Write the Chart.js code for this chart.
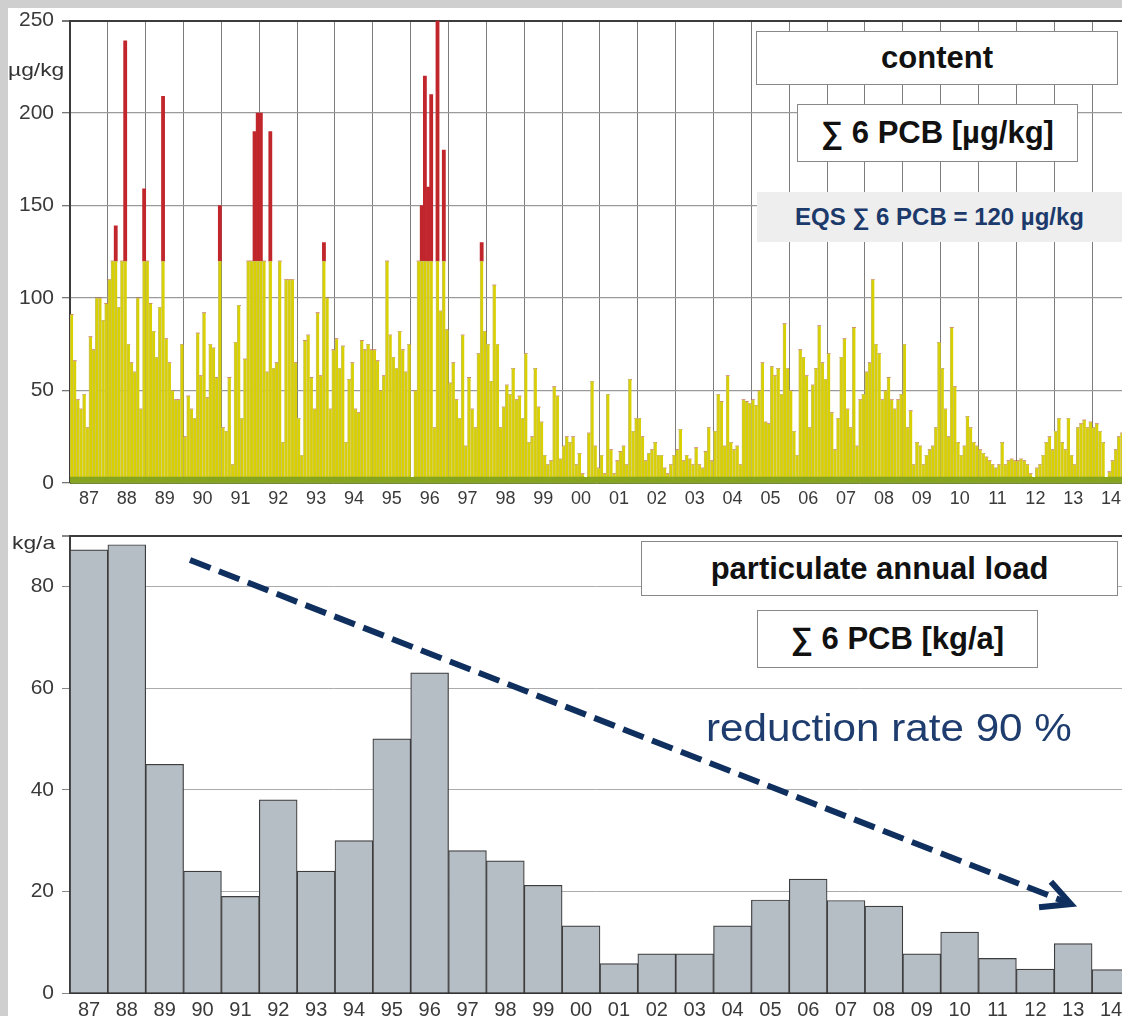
<!DOCTYPE html>
<html>
<head>
<meta charset="utf-8">
<script src="https://cdn.jsdelivr.net/npm/chart.js@4.4.1/dist/chart.umd.min.js"></script>
<style>
  html, body { margin: 0; padding: 0; }
  body { width: 1122px; height: 1016px; background: #cfcfcf; position: relative; overflow: hidden;
         font-family: "Liberation Sans", Arial, sans-serif; }
  #sheet { position: absolute; left: 8px; top: 8px; right: 0; bottom: 0; background: #fff; }
  canvas { position: absolute; left: 0; }
  #topChart { top: 0; }
  #botChart { top: 515px; }
  .unit { position: absolute; font-size: 19px; color: #333; line-height: 1; white-space: nowrap;
          transform: scaleX(1.2); transform-origin: left top; }
  .box { position: absolute; background: #fff; border: 1.5px solid #888; box-sizing: border-box;
         display: flex; align-items: center; justify-content: center;
         font-weight: bold; font-size: 31px; color: #111; white-space: nowrap; }
  #eqs { position: absolute; left: 757px; top: 192px; width: 365px; height: 50px; background: #eeeeee;
         display: flex; align-items: center; justify-content: center;
         font-weight: bold; font-size: 24px; color: #1b3a6b; white-space: nowrap; }
  #reduction { position: absolute; left: 706px; top: 709px; font-size: 38px; color: #1e3d6e;
               line-height: 1; white-space: nowrap; transform: scaleX(1.11); transform-origin: left center; }
</style>
</head>
<body>
<div id="sheet"></div>
<canvas id="topChart" width="1122" height="515"></canvas>
<canvas id="botChart" width="1122" height="501"></canvas>

<div class="unit" style="left:8px; top:60px;">µg/kg</div>
<div class="box" style="left:756px; top:31px; width:362px; height:54px;">content</div>
<div class="box" style="left:797px; top:104px; width:281px; height:58px;">∑ 6 PCB [µg/kg]</div>
<div id="eqs">EQS ∑ 6 PCB = 120 µg/kg</div>

<div class="unit" style="left:12px; top:533px;">kg/a</div>
<div class="box" style="left:641px; top:541px; width:477px; height:55px;">particulate annual load</div>
<div class="box" style="left:757px; top:610px; width:281px; height:58px;">∑ 6 PCB [kg/a]</div>
<div id="reduction">reduction rate 90 %</div>

<script>
// years on both x axes
const years = [1987, 1988, 1989, 1990, 1991, 1992, 1993, 1994, 1995, 1996, 1997, 1998, 1999, 2000,
               2001, 2002, 2003, 2004, 2005, 2006, 2007, 2008, 2009, 2010, 2011, 2012, 2013, 2014];
const yearLabels = ['87', '88', '89', '90', '91', '92', '93', '94', '95', '96', '97', '98', '99', '00',
                    '01', '02', '03', '04', '05', '06', '07', '08', '09', '10', '11', '12', '13', '14'];

// monthly sum of 6 PCB content [µg/kg], one array per year
const c87 = [91, 66, 45, 40, 48, 30, 79, 72, 100, 100, 88, 97];
const c88 = [110, 120, 139, 95, 120, 239, 75, 65, 60, 100, 40, 159];
const c89 = [120, 97, 82, 68, 95, 209, 78, 65, 50, 45, 45, 75];
const c90 = [25, 47, 40, 35, 81, 58, 92, 46, 75, 73, 57, 150];
const c91 = [30, 28, 57, 10, 76, 96, 35, 67, 120, 120, 190, 200];
const c92 = [200, 120, 60, 190, 62, 65, 120, 22, 110, 110, 110, 65];
const c93 = [35, 15, 77, 80, 57, 40, 92, 58, 130, 100, 40, 72];
const c94 = [78, 62, 74, 22, 56, 65, 40, 38, 77, 72, 75, 72];
const c95 = [72, 66, 50, 58, 120, 80, 68, 62, 82, 72, 60, 75];
const c96 = [3, 50, 120, 150, 220, 160, 210, 30, 250, 93, 180, 83];
const c97 = [54, 65, 45, 35, 80, 20, 57, 40, 30, 70, 130, 82];
const c98 = [75, 55, 107, 75, 30, 41, 53, 48, 62, 45, 47, 35];
const c99 = [70, 22, 25, 62, 41, 33, 15, 10, 12, 52, 47, 13];
const c00 = [20, 25, 22, 25, 10, 16, 5, 3, 27, 55, 20, 8];
const c01 = [15, 5, 48, 18, 5, 12, 17, 20, 10, 56, 28, 35];
const c02 = [35, 25, 12, 16, 18, 22, 15, 15, 8, 5, 10, 15];
const c03 = [18, 29, 12, 15, 13, 10, 19, 10, 8, 17, 30, 12];
const c04 = [28, 48, 44, 20, 58, 22, 18, 20, 10, 45, 44, 43];
const c05 = [45, 42, 50, 65, 33, 32, 63, 58, 62, 48, 86, 62];
const c06 = [50, 28, 15, 72, 68, 58, 30, 53, 62, 85, 65, 56];
const c07 = [70, 38, 18, 35, 68, 78, 40, 30, 84, 20, 45, 48];
const c08 = [60, 65, 110, 75, 70, 45, 50, 57, 45, 40, 45, 48];
const c09 = [75, 30, 39, 10, 22, 20, 10, 15, 18, 20, 30, 76];
const c10 = [62, 40, 25, 84, 52, 22, 15, 20, 36, 30, 22, 20];
const c11 = [18, 16, 14, 12, 10, 8, 10, 22, 10, 12, 13, 12];
const c12 = [12, 13, 12, 10, 5, 3, 8, 10, 15, 22, 25, 18];
const c13 = [28, 35, 22, 18, 35, 15, 10, 30, 32, 34, 30, 33];
const c14 = [30, 32, 28, 22, 3, 6, 12, 18, 25, 27];

// particulate annual load of 6 PCB [kg/a]
const loads = [87.2, 88.2, 45, 24, 19, 38, 24, 30, 50, 63, 28, 26, 21.2, 13.2,
               5.8, 7.7, 7.7, 13.2, 18.3, 22.4, 18.2, 17.1, 7.7, 12, 6.8, 4.7, 9.7, 4.6];

const eqs = 120;        // quality standard, bars above it are red
const baseBand = 3.2;   // green foot of every bar
const xEnd = 2014.79;   // picture is cut inside 2014
// trend arrow in data units [year, kg/a]
const trendFrom = [1990.17, 85.2];
const trendTo = [2013.44, 17.5];

const content = [].concat(c87, c88, c89, c90, c91, c92, c93, c94, c95, c96, c97, c98, c99, c00,
                          c01, c02, c03, c04, c05, c06, c07, c08, c09, c10, c11, c12, c13, c14);
const monthX = content.map((v, i) => years[0] + (i + 0.5) / 12);

const tickFont = { family: "'Liberation Sans', Arial, sans-serif" };

function yearAxis(fontSize, showGrid, height) {
  return {
    type: 'linear',
    min: years[0],
    max: xEnd,
    offset: false,
    stacked: true,
    afterBuildTicks: (s) => { s.ticks = years.map((v) => ({ value: v })); },
    afterFit: (s) => { s.height = height; },
    ticks: {
      autoSkip: false, maxRotation: 0, labelOffset: 19, padding: 5, color: '#3a3a3a',
      font: { ...tickFont, size: fontSize },
      callback: (v) => yearLabels[years.indexOf(v)]
    },
    grid: { display: showGrid, offset: false, drawTicks: false, color: '#7d7d7d', lineWidth: 1 },
    border: { display: true, color: showGrid ? '#6f8a2a' : '#333', width: showGrid ? 1 : 2 }
  };
}

new Chart(document.getElementById('topChart'), {
  type: 'bar',
  data: {
    datasets: [
      { data: content.map((v, i) => ({ x: monthX[i], y: Math.min(v, baseBand) })),
        backgroundColor: '#86a41e', borderWidth: 0 },
      { data: content.map((v, i) => ({ x: monthX[i], y: Math.min(v, eqs) - Math.min(v, baseBand) })),
        backgroundColor: '#d9d000', borderColor: '#cbc35e', borderWidth: { left: 1, top: 1, right: 0, bottom: 0 } },
      { data: content.map((v, i) => ({ x: monthX[i], y: Math.max(v - eqs, 0) })),
        backgroundColor: '#c1262c', borderWidth: 0 }
    ]
  },
  options: {
    responsive: false,
    animation: false,
    events: [],
    layout: { padding: { top: 19, left: 0, right: 0, bottom: 0 } },
    datasets: { bar: { barPercentage: 1, categoryPercentage: 1, borderSkipped: false } },
    plugins: { legend: { display: false }, tooltip: { enabled: false } },
    scales: {
      x: yearAxis(18, true, 32),
      y: {
        min: 0, max: 250, stacked: true,
        afterFit: (s) => { s.width = 70; },
        ticks: { stepSize: 50, padding: 8, color: '#3a3a3a', font: { ...tickFont, size: 21 } },
        grid: {
          color: (c) => (c.tick && c.tick.value === 250 ? '#3c3c3c' : '#9a9a9a'),
          lineWidth: (c) => (c.tick && c.tick.value === 250 ? 2 : 1.3),
          tickLength: 8, tickColor: '#777'
        },
        border: { color: '#3c3c3c', width: 2 }
      }
    }
  }
});

const arrowPlugin = {
  id: 'trendArrow',
  afterDatasetsDraw(chart) {
    const { ctx, scales: { x, y } } = chart;
    const x0 = x.getPixelForValue(trendFrom[0]), y0 = y.getPixelForValue(trendFrom[1]);
    const x1 = x.getPixelForValue(trendTo[0]), y1 = y.getPixelForValue(trendTo[1]);
    const ang = Math.atan2(y1 - y0, x1 - x0);
    ctx.save();
    ctx.strokeStyle = '#0f2f5f';
    ctx.lineWidth = 6;
    ctx.setLineDash([22, 9]);
    ctx.beginPath();
    ctx.moveTo(x0, y0);
    ctx.lineTo(x1 - 3 * Math.cos(ang), y1 - 3 * Math.sin(ang));
    ctx.stroke();
    ctx.setLineDash([]);
    ctx.lineJoin = 'miter';
    ctx.beginPath();
    ctx.moveTo(x1 - 32 * Math.cos(ang - 0.47), y1 - 32 * Math.sin(ang - 0.47));
    ctx.lineTo(x1, y1);
    ctx.lineTo(x1 - 30 * Math.cos(ang + 0.47), y1 - 30 * Math.sin(ang + 0.47));
    ctx.stroke();
    ctx.restore();
  }
};

new Chart(document.getElementById('botChart'), {
  type: 'bar',
  data: {
    datasets: [{
      data: loads.map((v, i) => ({ x: years[i] + 0.5, y: v })),
      backgroundColor: '#b5bdc5',
      borderColor: '#3d3d3d',
      borderWidth: 1.2,
      barPercentage: 1,
      categoryPercentage: 1
    }]
  },
  options: {
    responsive: false,
    animation: false,
    events: [],
    layout: { padding: { top: 14, left: 0, right: 0, bottom: 0 } },
    plugins: { legend: { display: false }, tooltip: { enabled: false } },
    scales: {
      x: yearAxis(20, false, 23),
      y: {
        min: 0, max: 90,
        afterFit: (s) => { s.width = 70; },
        ticks: {
          stepSize: 20, padding: 8, color: '#3a3a3a', font: { ...tickFont, size: 21 },
          callback: (v) => (v > 80 ? '' : v)
        },
        grid: {
          color: (c) => (c.tick && c.tick.value === 90 ? '#3c3c3c' : '#ababab'),
          lineWidth: (c) => (c.tick && c.tick.value === 90 ? 2 : 1),
          tickLength: 8, tickColor: '#888'
        },
        border: { color: '#3c3c3c', width: 2 }
      }
    }
  },
  plugins: [arrowPlugin]
});
</script>
</body>
</html>
